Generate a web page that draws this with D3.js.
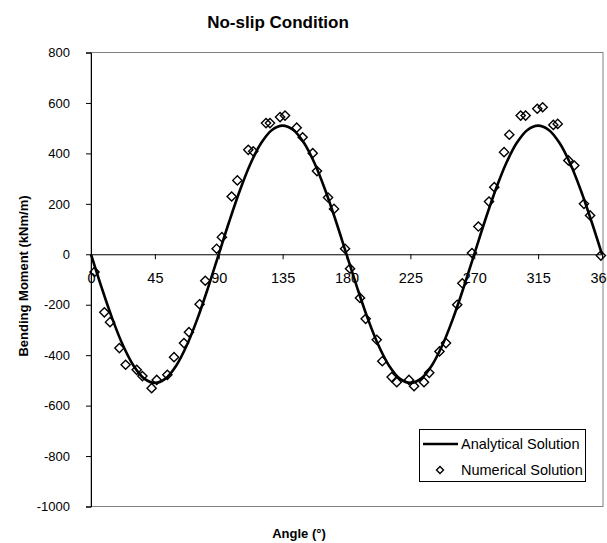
<!DOCTYPE html>
<html>
<head>
<meta charset="utf-8">
<script src="https://cdn.jsdelivr.net/npm/d3@7"></script>
<style>
  body { margin: 0; background: #fff; }
  svg { font-family: "Liberation Sans", Arial, sans-serif; }
</style>
</head>
<body>
<div id="chart"></div>
<script>
// analytical solution
const anaAngle = [0, 7.5, 15, 22.5, 30, 37.5, 45, 52.5, 60, 67.5, 75, 82.5, 90,
  97.5, 105, 112.5, 120, 127.5, 135, 142.5, 150, 157.5, 165, 172.5, 180,
  187.5, 195, 202.5, 210, 217.5, 225, 232.5, 240, 247.5, 255, 262.5, 270,
  277.5, 285, 292.5, 300, 307.5, 315, 322.5, 330, 337.5, 345, 352.5, 360];
const anaMoment = [0, -132, -255, -361, -442, -493, -510, -493, -442, -361, -255, -132, 0,
  132, 255, 361, 442, 493, 510, 493, 442, 361, 255, 132, 0,
  -132, -255, -361, -442, -493, -510, -493, -442, -361, -255, -132, 0,
  132, 255, 361, 442, 493, 510, 493, 442, 361, 255, 132, 0];

// numerical solution points
const numAngle = [2.5, 9.4, 13.4, 20, 24.4, 32.2, 36.2, 42.7, 46.3, 53.8, 58.5, 65.5, 69,
  76.5, 80.5, 88.5, 92.2, 99.1, 103.1, 110.8, 114.3, 123.3, 126.1, 133.2, 136.7,
  144.9, 149.1, 156.2, 159.2, 167, 171.2, 179, 182.5, 189.5, 193.5, 201.3, 205.2,
  211.8, 215.4, 224, 227.6, 234.6, 238.3, 245.5, 250.1, 258, 261.6, 268.4, 272.9,
  280.4, 284.1, 291, 294.7, 302.7, 306.2, 314.4, 318.2, 325.7, 328.8, 336.3, 340.5,
  347.3, 351.6, 359.2];
const numMoment = [-70, -230, -269, -372, -438, -458, -483, -531, -498, -478, -408, -352, -309,
  -198, -105, 22, 68, 229, 293, 414, 408, 520, 520, 544, 550,
  502, 464, 401, 330, 225, 180, 22, -57, -173, -256, -339, -424,
  -487, -507, -498, -523, -507, -470, -385, -352, -200, -115, 5, 110,
  209, 266, 405, 474, 550, 550, 577, 583, 513, 517, 372, 352,
  200, 154, -5];

const xTicks = [0, 45, 90, 135, 180, 225, 270, 315, 360];
const yTicks = [800, 600, 400, 200, 0, -200, -400, -600, -800, -1000];

const W = 607, H = 543;
const plot = { left: 91, right: 602, top: 52.5, bottom: 506.5 };

var svg = d3.select("#chart")
  .append("svg")
    .attr("width", W)
    .attr("height", H);

svg.append("rect").attr("width", W).attr("height", H).attr("fill", "#fff");

const x = d3.scaleLinear().domain([0, 360]).range([plot.left, plot.right]);
const y = d3.scaleLinear().domain([-1000, 800]).range([plot.bottom, plot.top]);

// plot area frame
svg.append("rect")
  .attr("x", plot.left)
  .attr("y", plot.top)
  .attr("width", plot.right + 1 - plot.left)
  .attr("height", plot.bottom - plot.top)
  .attr("fill", "none")
  .attr("stroke", "#808080")
  .attr("stroke-width", 1);

// y axis (plain hyphen for negatives, like the original)
var yAxis = svg.append("g")
  .attr("transform", `translate(${plot.left},0)`)
  .call(d3.axisLeft(y).tickValues(yTicks).tickSize(5).tickPadding(16).tickFormat(d => String(d)));
yAxis.selectAll("text").style("font-size", "13px").attr("fill", "#000");
yAxis.select(".domain").attr("stroke", "#000");

// x axis on the zero line
var xAxis = svg.append("g")
  .attr("transform", `translate(0,${y(0)})`)
  .call(d3.axisBottom(x).tickValues(xTicks).tickSize(5).tickPadding(13).tickSizeOuter(0));
xAxis.selectAll("text").style("font-size", "14.5px").attr("fill", "#000");
xAxis.select(".domain").attr("stroke", "#000");

// analytical curve
const anaData = anaAngle.map((a, i) => ({ a: a, m: anaMoment[i] }));
svg.append("path")
  .datum(anaData)
  .attr("fill", "none")
  .attr("stroke", "#000")
  .attr("stroke-width", 2.6)
  .attr("d", d3.line().x(d => x(d.a)).y(d => y(d.m)).curve(d3.curveCatmullRom));

// diamond marker
const dm = 4.6;
const diamond = `M0,${-dm}L${dm},0L0,${dm}L${-dm},0Z`;

const numData = numAngle.map((a, i) => ({ a: a, m: numMoment[i] }));
svg.selectAll("numPoints")
  .data(numData)
  .enter()
  .append("path")
  .attr("d", diamond)
  .attr("transform", d => `translate(${x(d.a)},${y(d.m)})`)
  .attr("fill", "none")
  .attr("stroke", "#000")
  .attr("stroke-width", 1.4);

// title
svg.append("text")
  .attr("x", 278)
  .attr("y", 28)
  .attr("text-anchor", "middle")
  .style("font-size", "17px")
  .style("font-weight", "bold")
  .text("No-slip Condition");

// axis titles
svg.append("text")
  .attr("x", 299)
  .attr("y", 538)
  .attr("text-anchor", "middle")
  .style("font-size", "13px")
  .style("font-weight", "bold")
  .text("Angle (°)");

svg.append("text")
  .attr("transform", "translate(28,276) rotate(-90)")
  .attr("text-anchor", "middle")
  .style("font-size", "13px")
  .style("font-weight", "bold")
  .text("Bending Moment (kNm/m)");

// legend
var legend = svg.append("g");
legend.append("rect")
  .attr("x", 419.5).attr("y", 429.5)
  .attr("width", 166).attr("height", 52)
  .attr("fill", "#fff")
  .attr("stroke", "#000");
legend.append("line")
  .attr("x1", 423).attr("x2", 458)
  .attr("y1", 444).attr("y2", 444)
  .attr("stroke", "#000")
  .attr("stroke-width", 2.6);
legend.append("path")
  .attr("d", `M0,-3.5L3.5,0L0,3.5L-3.5,0Z`)
  .attr("transform", "translate(440,470)")
  .attr("fill", "none")
  .attr("stroke", "#000")
  .attr("stroke-width", 1.4);
legend.append("text")
  .attr("x", 461).attr("y", 449)
  .style("font-size", "14.5px")
  .text("Analytical Solution");
legend.append("text")
  .attr("x", 461).attr("y", 475)
  .style("font-size", "14.5px")
  .text("Numerical Solution");
</script>
</body>
</html>
